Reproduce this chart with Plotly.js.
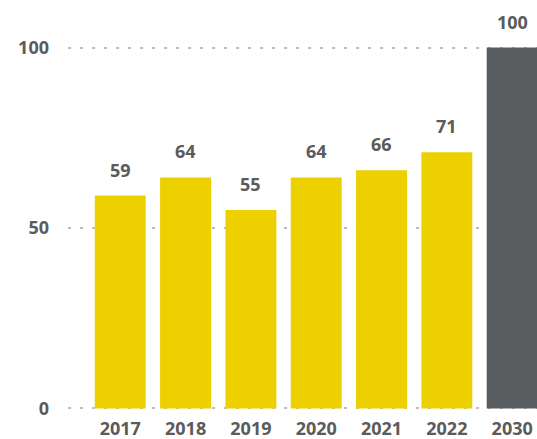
<!DOCTYPE html>
<html><head><meta charset="utf-8">
<script src="https://cdn.plot.ly/plotly-3.0.1.min.js"></script>
<style>html,body{margin:0;padding:0;background:#fff}#chart{width:537px;height:439px}</style>
</head><body><div id="chart"></div>
<script>
const years = ['2017','2018','2019','2020','2021','2022','2030'];
const values = [59, 64, 55, 64, 66, 71, 100];
const barColors = ['#EDD000','#EDD000','#EDD000','#EDD000','#EDD000','#EDD000','#5A5D60'];
const yTicks = [0, 50, 100];

const labelFont = {family: 'Open Sans, sans-serif', size: 18, color: '#5B5B5B'};

const trace = {
  type: 'bar', x: years, y: values,
  marker: {color: barColors},
  hoverinfo: 'none'
};
const annotations = years.map((yr, i) => ({
  x: i, y: values[i], xref: 'x', yref: 'y',
  text: '<b>' + values[i] + '</b>', showarrow: false,
  yanchor: 'bottom', yshift: 12, font: labelFont
}));
const layout = {
  width: 537, height: 439,
  margin: {l: 68, r: 0, t: 44, b: 27},
  paper_bgcolor: '#fff', plot_bgcolor: '#fff',
  bargap: 0.22, showlegend: false,
  xaxis: {type: 'category', range: [-0.8, 6.38], showgrid: false, zeroline: false,
    showline: false, ticks: '', tickfont: labelFont, ticklabelstandoff: 4,
    tickvals: years, ticktext: years.map(y => '<b>' + y + '</b>')},
  yaxis: {range: [-1, 101], tickvals: yTicks, ticktext: yTicks.map(v => '<b>' + v + '</b>'),
    showgrid: true, gridcolor: '#BDBDBD', gridwidth: 2, griddash: '3px,9px',
    zeroline: false, showline: false, ticks: '', tickfont: labelFont, ticklabelstandoff: 18},
  annotations: annotations
};
Plotly.newPlot('chart', [trace], layout, {staticPlot: true});
</script></body></html>
